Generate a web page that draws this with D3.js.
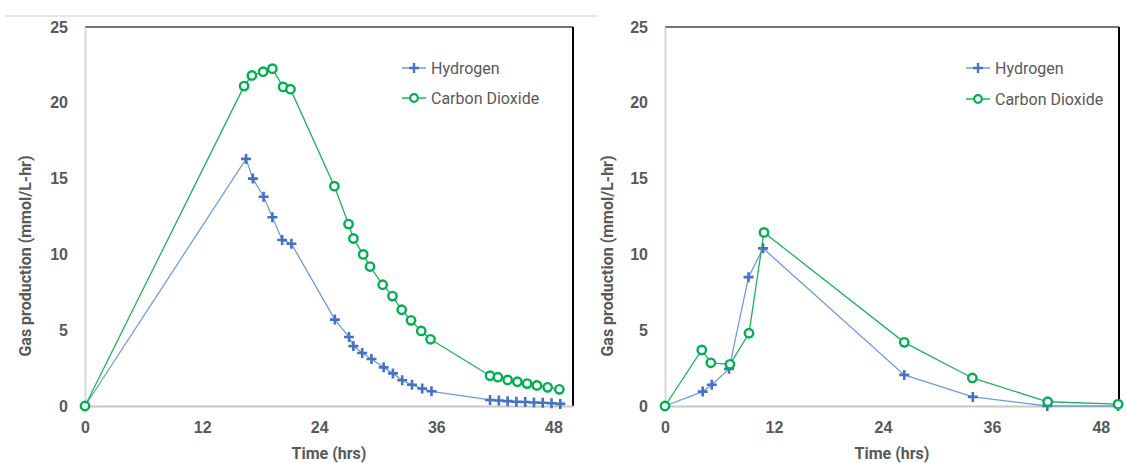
<!DOCTYPE html>
<html>
<head>
<meta charset="utf-8">
<script src="https://cdn.jsdelivr.net/npm/d3@7.9.0/dist/d3.min.js"></script>
<style>
  body { margin: 0; background: #fff; }
  svg { display: block; font-family: Roboto, "Open Sans", sans-serif; }
  .tick text { fill: #595959; font-weight: bold; font-size: 16px; }
  .title { fill: #595959; font-weight: bold; font-size: 16px; }
  .legend text { fill: #595959; font-size: 16px; }
</style>
</head>
<body>
<svg id="chart" width="1127" height="463"></svg>
<script>
// left panel
const h2TimeA = [0, 16.5, 17.2, 18.3, 19.2, 20.2, 21.15, 25.6, 27.05, 27.5, 28.4, 29.35, 30.6,
  31.55, 32.5, 33.5, 34.55, 35.5, 41.5, 42.4, 43.3, 44.2, 45.1, 46.0, 46.9, 47.8, 48.7];
const h2ValA = [0, 16.3, 15.0, 13.8, 12.45, 10.95, 10.7, 5.7, 4.55, 3.95, 3.5, 3.1, 2.55,
  2.15, 1.7, 1.4, 1.15, 0.97, 0.4, 0.36, 0.32, 0.28, 0.26, 0.23, 0.21, 0.18, 0.14];
const co2TimeA = [0, 16.3, 17.1, 18.25, 19.2, 20.3, 21.05, 25.55, 27.0, 27.5, 28.5, 29.2, 30.5,
  31.5, 32.45, 33.4, 34.45, 35.4, 41.5, 42.3, 43.3, 44.3, 45.3, 46.3, 47.4, 48.6];
const co2ValA = [0, 21.1, 21.8, 22.05, 22.25, 21.05, 20.9, 14.5, 12.0, 11.05, 10.0, 9.2, 8.0,
  7.25, 6.35, 5.65, 4.95, 4.4, 2.0, 1.9, 1.72, 1.6, 1.48, 1.36, 1.23, 1.1];

// right panel
const h2TimeB = [0, 4.15, 5.15, 7.05, 9.2, 10.8, 26.35, 33.9, 42.1, 49.9];
const h2ValB = [0, 0.95, 1.4, 2.45, 8.5, 10.4, 2.05, 0.6, 0, 0];
const co2TimeB = [0, 4.05, 5.05, 7.15, 9.25, 10.9, 26.35, 33.85, 42.15, 49.9];
const co2ValB = [0, 3.7, 2.85, 2.75, 4.8, 11.45, 4.2, 1.85, 0.28, 0.12];

const xTicks = [0, 12, 24, 36, 48];
const yTicks = [0, 5, 10, 15, 20, 25];
const seriesNames = ['Hydrogen', 'Carbon Dioxide'];

const svg = d3.select('#chart');

// outer frame line above the left chart
svg.append('line').attr('x1', 5).attr('x2', 598).attr('y1', 16).attr('y2', 16)
  .attr('stroke', '#d0d0d0').attr('stroke-width', 1.2);

function zip(xs, ys) {
  return xs.map((x, i) => ({ x: x, y: ys[i] }));
}

function drawPanel(opt) {
  const x = d3.scaleLinear().domain([0, 50]).range([opt.left, opt.right]);
  const y = d3.scaleLinear().domain([0, 25]).range([406, 27]);
  const g = svg.append('g');

  // plot area border: dark top and right, light axes
  g.append('line').attr('x1', x(0)).attr('x2', x(50)).attr('y1', y(25)).attr('y2', y(25))
    .attr('stroke', '#444').attr('stroke-width', 1.3);
  g.append('line').attr('x1', x(50)).attr('x2', x(50)).attr('y1', y(25)).attr('y2', y(0))
    .attr('stroke', '#000').attr('stroke-width', 2);

  const xAxis = g.append('g').attr('transform', `translate(0,${y(0)})`)
    .call(d3.axisBottom(x).tickValues(xTicks).tickSize(0).tickPadding(16));
  xAxis.select('.domain').attr('stroke', '#c8c8c8').attr('stroke-width', 2);

  const yAxis = g.append('g').attr('transform', `translate(${x(0)},0)`)
    .call(d3.axisLeft(y).tickValues(yTicks).tickSize(0).tickPadding(17));
  yAxis.select('.domain').attr('stroke', '#d8d8d8').attr('stroke-width', 2);

  g.append('text').attr('class', 'title')
    .attr('x', (x(0) + x(50)) / 2).attr('y', 459).attr('text-anchor', 'middle')
    .text('Time (hrs)');
  g.append('text').attr('class', 'title')
    .attr('transform', `translate(${opt.titleX},256) rotate(-90)`)
    .attr('text-anchor', 'middle')
    .text('Gas production (mmol/L-hr)');

  const line = d3.line().x(d => x(d.x)).y(d => y(d.y));

  // hydrogen
  const h2 = zip(opt.h2t, opt.h2v);
  g.append('path').datum(h2).attr('d', line)
    .attr('fill', 'none').attr('stroke', '#6f9be0').attr('stroke-width', 1.3);
  g.selectAll('.h2').data(h2).join('path').attr('class', 'h2')
    .attr('transform', d => `translate(${x(d.x)},${y(d.y)})`)
    .attr('d', 'M-5,0H5M0,-5V5')
    .attr('stroke', '#4472c4').attr('stroke-width', 2.6);

  // carbon dioxide
  const co2 = zip(opt.co2t, opt.co2v);
  g.append('path').datum(co2).attr('d', line)
    .attr('fill', 'none').attr('stroke', '#1fb25a').attr('stroke-width', 1.3);
  g.selectAll('.co2').data(co2).join('circle').attr('class', 'co2')
    .attr('cx', d => x(d.x)).attr('cy', d => y(d.y)).attr('r', 4.2)
    .attr('fill', '#fff').attr('stroke', '#00b050').attr('stroke-width', 2.4);

  // legend
  const lg = g.append('g').attr('class', 'legend');
  seriesNames.forEach((name, i) => {
    const ly = opt.legY[i];
    const col = i === 0 ? '#6f9be0' : '#1fb25a';
    lg.append('line').attr('x1', opt.legX).attr('x2', opt.legX + 24)
      .attr('y1', ly).attr('y2', ly).attr('stroke', col).attr('stroke-width', 1.5);
    const cx = opt.legX + 12;
    if (i === 0) {
      lg.append('path').attr('d', `M${cx - 5},${ly}H${cx + 5}M${cx},${ly - 5}V${ly + 5}`)
        .attr('stroke', '#4472c4').attr('stroke-width', 2.4);
    } else {
      lg.append('circle').attr('cx', cx).attr('cy', ly).attr('r', 3.8)
        .attr('fill', '#fff').attr('stroke', '#00b050').attr('stroke-width', 2.2);
    }
    lg.append('text').attr('x', opt.legX + 29).attr('y', ly).attr('dy', '0.35em').text(name);
  });
}

drawPanel({ left: 85, right: 573, titleX: 31, legX: 402, legY: [68, 98],
  h2t: h2TimeA, h2v: h2ValA, co2t: co2TimeA, co2v: co2ValA });
drawPanel({ left: 665, right: 1119, titleX: 613, legX: 966, legY: [68, 99],
  h2t: h2TimeB, h2v: h2ValB, co2t: co2TimeB, co2v: co2ValB });
</script>
</body>
</html>
